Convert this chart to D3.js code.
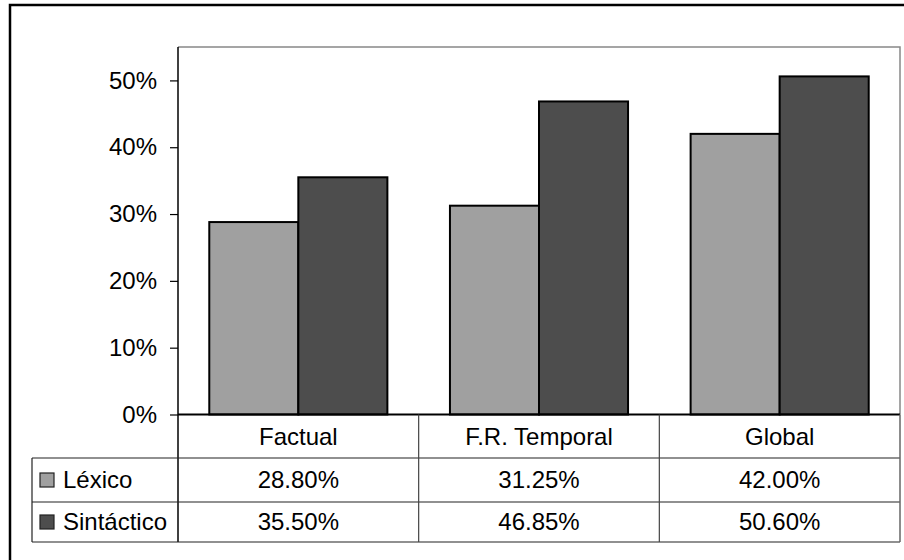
<!DOCTYPE html>
<html>
<head>
<meta charset="utf-8">
<script src="https://cdn.jsdelivr.net/npm/d3@7"></script>
<style>
  html, body { margin: 0; padding: 0; background: #fff; }
  svg { display: block; font-family: "Liberation Sans", Arial, sans-serif; }
</style>
</head>
<body>
<svg id="chart" width="904" height="560"></svg>
<script>
// Categories, series and tick labels
const categories = ["Factual", "F.R. Temporal", "Global"];
const seriesNames = ["Léxico", "Sintáctico"];
const lexico = [0.2880, 0.3125, 0.4200];
const sintactico = [0.3550, 0.4685, 0.5060];
const yTicks = [0, 0.1, 0.2, 0.3, 0.4, 0.5];
const seriesColors = ["#a0a0a0", "#4d4d4d"];

const seriesValues = [lexico, sintactico];

const svg = d3.select("#chart");

const plot = { left: 178, right: 900, top: 47, bottom: 414.5 };
const table = { left: 32, headerBottom: 458, row1Bottom: 502, row2Bottom: 542 };

// Outer frame (runs past the right and bottom edges)
svg.append("rect")
  .attr("x", 10).attr("y", 5)
  .attr("width", 1000).attr("height", 1000)
  .attr("fill", "none").attr("stroke", "#000").attr("stroke-width", 2.5);

const y = d3.scaleLinear().domain([0, 0.55]).range([plot.bottom, plot.top]);
const x0 = d3.scaleBand().domain(categories).range([plot.left, plot.right])
  .paddingInner(0.26).paddingOuter(0.13);
const x1 = d3.scaleBand().domain(seriesNames).range([0, x0.bandwidth()]);
const cols = d3.scaleBand().domain(categories).range([plot.left, plot.right]);

// Plot area border (top and right)
svg.append("path")
  .attr("d", `M${plot.left},${plot.top}H${plot.right}V${plot.bottom}`)
  .attr("fill", "none").attr("stroke", "#888").attr("stroke-width", 1.5);

// Bars
const groups = svg.append("g").selectAll("g")
  .data(categories)
  .join("g")
  .attr("transform", d => `translate(${x0(d)},0)`);

groups.selectAll("rect")
  .data((d, i) => seriesNames.map((s, j) => ({ s, j, v: seriesValues[j][i] })))
  .join("rect")
  .attr("x", d => x1(d.s))
  .attr("y", d => y(d.v))
  .attr("width", x1.bandwidth())
  .attr("height", d => y(0) - y(d.v))
  .attr("fill", d => seriesColors[d.j])
  .attr("stroke", "#000").attr("stroke-width", 2);

// Y axis
const yAxis = d3.axisLeft(y).tickValues(yTicks).tickFormat(d3.format(".0%"))
  .tickSize(8).tickPadding(13);
const ya = svg.append("g").attr("transform", `translate(${plot.left},0)`).call(yAxis);
ya.select(".domain").remove();
ya.selectAll(".tick line").attr("stroke", "#000").attr("stroke-width", 1.2);
ya.selectAll(".tick text").attr("font-size", 24).attr("fill", "#000")
  .attr("font-family", "Liberation Sans, Arial, sans-serif");

// Axis line, extended down through the data table
svg.append("line")
  .attr("x1", plot.left).attr("x2", plot.left)
  .attr("y1", plot.top).attr("y2", table.row2Bottom)
  .attr("stroke", "#000").attr("stroke-width", 1.5);

// Category axis line
svg.append("line")
  .attr("x1", plot.left).attr("x2", plot.right)
  .attr("y1", plot.bottom).attr("y2", plot.bottom)
  .attr("stroke", "#000").attr("stroke-width", 2);

// Data table grid
const gridColor = "#222";
[table.headerBottom, table.row1Bottom, table.row2Bottom].forEach(yy => {
  svg.append("line")
    .attr("x1", table.left).attr("x2", plot.right)
    .attr("y1", yy).attr("y2", yy)
    .attr("stroke", gridColor).attr("stroke-width", 1.2);
});
svg.append("line")
  .attr("x1", table.left).attr("x2", table.left)
  .attr("y1", table.headerBottom).attr("y2", table.row2Bottom)
  .attr("stroke", gridColor).attr("stroke-width", 1.2);
categories.slice(1).forEach(c => {
  svg.append("line")
    .attr("x1", cols(c)).attr("x2", cols(c))
    .attr("y1", plot.bottom).attr("y2", table.row2Bottom)
    .attr("stroke", "#444").attr("stroke-width", 1.2);
});
svg.append("line")
  .attr("x1", plot.right).attr("x2", plot.right)
  .attr("y1", plot.bottom).attr("y2", table.row2Bottom)
  .attr("stroke", "#666").attr("stroke-width", 1.5);

// Category labels
svg.append("g").selectAll("text")
  .data(categories)
  .join("text")
  .attr("x", d => cols(d) + cols.bandwidth() / 2)
  .attr("y", (plot.bottom + table.headerBottom) / 2)
  .attr("dy", "0.35em")
  .attr("text-anchor", "middle")
  .attr("font-size", 24)
  .text(d => d);

// Table rows: legend key, series name, values
const rowCenters = [
  (table.headerBottom + table.row1Bottom) / 2,
  (table.row1Bottom + table.row2Bottom) / 2
];
const pct = d3.format(".2%");
seriesNames.forEach((s, j) => {
  const cy = rowCenters[j];
  svg.append("rect")
    .attr("x", 40).attr("y", cy - 7)
    .attr("width", 14).attr("height", 14)
    .attr("fill", seriesColors[j]).attr("stroke", "#222").attr("stroke-width", 1.2);
  svg.append("text")
    .attr("x", 63).attr("y", cy).attr("dy", "0.35em")
    .attr("font-size", 24).text(s);
  svg.append("g").selectAll("text")
    .data(seriesValues[j])
    .join("text")
    .attr("x", (d, i) => cols(categories[i]) + cols.bandwidth() / 2)
    .attr("y", cy).attr("dy", "0.35em")
    .attr("text-anchor", "middle")
    .attr("font-size", 24)
    .text(d => pct(d));
});
</script>
</body>
</html>
